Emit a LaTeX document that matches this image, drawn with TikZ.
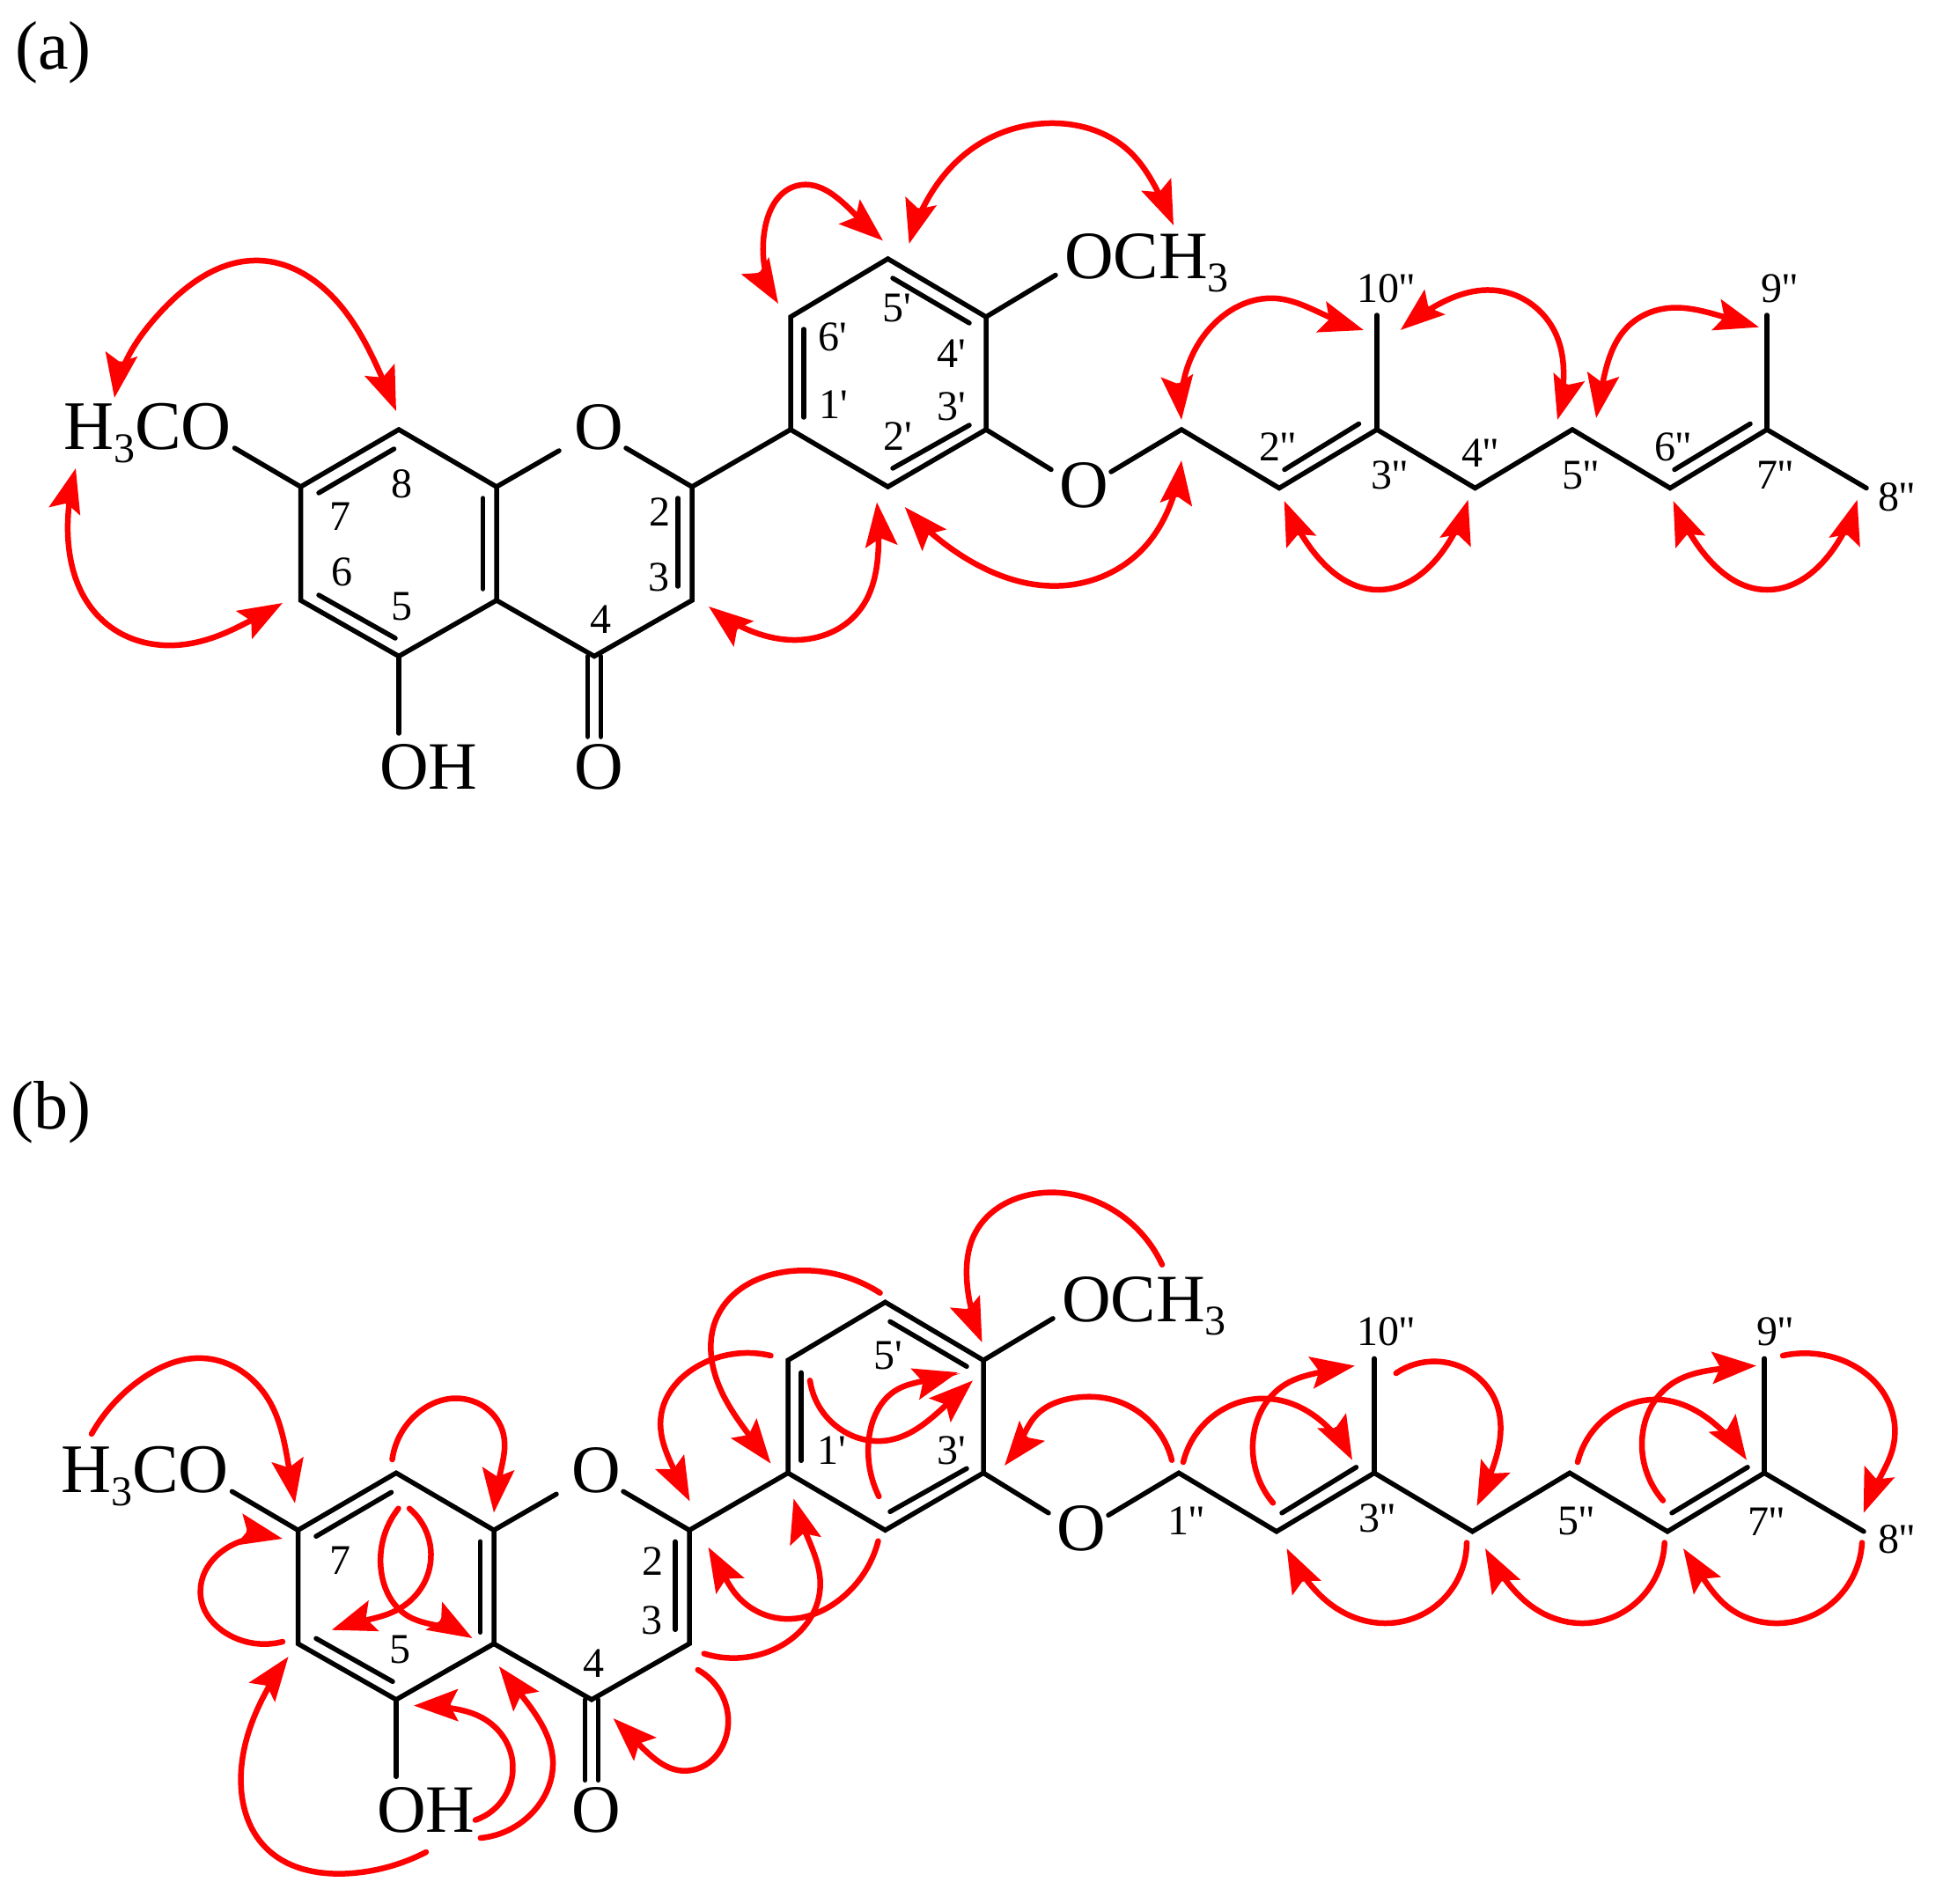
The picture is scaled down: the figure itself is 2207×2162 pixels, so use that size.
\documentclass[tikz,border=0pt]{standalone}
\usepackage{fontspec}
\usetikzlibrary{arrows.meta,hobby}
\newfontfamily\chemfont{Liberation Serif}
\newcommand{\subthree}{\raisebox{-15pt}{\fontsize{48}{48}\selectfont 3}}
% one HMBC/COSY curve: name, style, start, middle points, end
\newcommand{\hcurve}[5]{%
  \coordinate (#1-s) at (#3);
  \coordinate (#1-e) at (#5);
  \draw[#2,use Hobby shortcut] (#1-s) .. #4 .. (#1-e);
}
\newcommand{\numlab}[3]{\node[numlabel] (#1) at (#2) {#3};}
% skeleton common to both panels
\newcommand{\skeleton}[1]{%
  \coordinate (#1C7) at (341.5,553);
  \coordinate (#1C8) at (453,488);
  \coordinate (#1C8a) at (564,553);
  \coordinate (#1C4a) at (564,682);
  \coordinate (#1C5) at (453,745.5);
  \coordinate (#1C6) at (341.5,682);
  \coordinate (#1C2) at (786,553);
  \coordinate (#1C3) at (786,682);
  \coordinate (#1C4) at (675,745.5);
  \coordinate (#1C1p) at (898,488);
  \coordinate (#1C6p) at (898,360);
  \coordinate (#1C5p) at (1008.5,294);
  \coordinate (#1C4p) at (1120,360);
  \coordinate (#1C3p) at (1120,488);
  \coordinate (#1C2p) at (1008.5,553);
  \coordinate (#1C1pp) at (1342,488);
  \coordinate (#1C2pp) at (1453,554.5);
  \coordinate (#1C3pp) at (1564,488);
  \coordinate (#1C4pp) at (1675.5,554.5);
  \coordinate (#1C5pp) at (1786,488);
  \coordinate (#1C6pp) at (1897,554.5);
  \coordinate (#1C7pp) at (2007,488);
  \coordinate (#1C8pp) at (2120,554.5);
  \coordinate (#1C9pp) at (2007,358);
  \coordinate (#1C10pp) at (1564,358);
  \coordinate (#1ome1) at (266.5,509);
  \coordinate (#1o1a) at (635,512);
  \coordinate (#1o1b) at (711,509);
  \coordinate (#1o2a) at (1194,533.5);
  \coordinate (#1o2b) at (1262,536);
  \coordinate (#1ome2) at (1199,312.5);
  \coordinate (#1oh) at (453,833);
  \node[atomlabel,font=\chemfont\fontsize{79}{79}\selectfont] (#1tOMeA) at (72,510) {H\subthree CO};
  \node[atomlabel] (#1tO1) at (652,510) {O};
  \node[atomlabel] (#1tOH) at (431,896) {OH};
  \node[atomlabel] (#1tOk) at (652,896) {O};
  \node[atomlabel] (#1tO2) at (1203,576) {O};
  \node[atomlabel] (#1tOMeB) at (1209,316) {OCH\subthree};
  \draw[bond] (#1ome1) -- (#1C7) -- (#1C8) -- (#1C8a) -- (#1o1a);
  \draw[bond] (#1C7) -- (#1C6) -- (#1C5) -- (#1C4a) -- (#1C8a);
  \draw[bond] (#1C5) -- (#1oh);
  \draw[bond] (#1C4a) -- (#1C4) -- (#1C3) -- (#1C2) -- (#1o1b);
  \draw[bond] (#1C2) -- (#1C1p) -- (#1C6p) -- (#1C5p) -- (#1C4p) -- (#1C3p) -- (#1C2p) -- (#1C1p);
  \draw[bond] (#1C4p) -- (#1ome2);
  \draw[bond] (#1C3p) -- (#1o2a);
  \draw[bond] (#1o2b) -- (#1C1pp) -- (#1C2pp) -- (#1C3pp) -- (#1C4pp) -- (#1C5pp) -- (#1C6pp) -- (#1C7pp) -- (#1C8pp);
  \draw[bond] (#1C3pp) -- (#1C10pp);
  \draw[bond] (#1C7pp) -- (#1C9pp);
  % inner lines of the double bonds
  \draw[bond] (362,560) -- (447.5,510);
  \draw[bond] (362,676) -- (449,725);
  \draw[bond] (548.5,566) -- (548.5,669);
  \draw[bond] (770,566) -- (770,666);
  \draw[bond] (913,374) -- (913,474);
  \draw[bond] (1014,316) -- (1101,367);
  \draw[bond] (1014,532) -- (1101,483);
  \draw[bond] (1459,533.5) -- (1543.5,481.5);
  \draw[bond] (1902,533.5) -- (1988,481.5);
  \draw[bond] (667.5,745.5) -- (667.5,837);
  \draw[bond] (682.5,745.5) -- (682.5,837);
}
\tikzset{
  bond/.style={draw=black,line width=5.5pt,line cap=round,line join=miter},
  atomlabel/.style={font=\chemfont\fontsize{77}{77}\selectfont,anchor=base west,inner sep=0pt,text=black},
  numlabel/.style={font=\chemfont\fontsize{48}{48}\selectfont,anchor=center,inner sep=0pt,text=black},
  panellabel/.style={font=\chemfont\fontsize{78}{78}\selectfont,anchor=base west,inner sep=0pt,text=black},
  hmbc/.style={draw=red,line width=6.5pt,line cap=round,>={Stealth[length=50pt,width=36pt,inset=9pt]},->},
  cosy/.style={draw=red,line width=6.5pt,line cap=round,>={Stealth[length=50pt,width=36pt,inset=9pt]},<->},
}
\begin{document}
\begin{tikzpicture}[x=1pt,y=-1pt]
\useasboundingbox (0,0) rectangle (2207,2162);
\fill[white] (0,0) rectangle (2207,2162);
\node[panellabel] (pa) at (17,79) {(a)};
\node[panellabel] (pb) at (12,1282) {(b)};
\begin{scope}
\skeleton{a}
\end{scope}
\begin{scope}[shift={(-3,1185.3)}]
\skeleton{b}
\end{scope}
% panel (a) numbers
\numlab{la7}{386,587}{7}
\numlab{la8}{456,550}{8}
\numlab{la6}{388,650}{6}
\numlab{la5}{456,689}{5}
\numlab{la4}{682,704}{4}
\numlab{la2}{749,582}{2}
\numlab{la3}{748,655.5}{3}
\numlab{la6p}{946,383}{6'}
\numlab{la1p}{947,460}{1'}
\numlab{la5p}{1019,350}{5'}
\numlab{la4p}{1081,402}{4'}
\numlab{la3p}{1081,462}{3'}
\numlab{la2p}{1020,496}{2'}
\numlab{la2pp}{1451,507.5}{2''}
\numlab{la3pp}{1578,540}{3''}
\numlab{la4pp}{1681,515}{4''}
\numlab{la5pp}{1795,540}{5''}
\numlab{la6pp}{1900,507.5}{6''}
\numlab{la7pp}{2016,540}{7''}
\numlab{la8pp}{2154,565}{8''}
\numlab{la9pp}{2021,327.5}{9''}
\numlab{la10pp}{1574,327.5}{10''}
% panel (b) numbers
\numlab{lb7}{386,1772.5}{7}
\numlab{lb5}{454,1874}{5}
\numlab{lb2}{741,1774}{2}
\numlab{lb3}{740,1841}{3}
\numlab{lb4}{674,1890}{4}
\numlab{lb5p}{1009,1540}{5'}
\numlab{lb1p}{945,1647.5}{1'}
\numlab{lb3p}{1081,1647.5}{3'}
\numlab{lb1pp}{1347,1727.5}{1''}
\numlab{lb3pp}{1564,1725}{3''}
\numlab{lb5pp}{1790.5,1727.5}{5''}
\numlab{lb7pp}{2006,1729}{7''}
\numlab{lb8pp}{2154,1748.5}{8''}
\numlab{lb9pp}{2016,1512.5}{9''}
\numlab{lb10pp}{1574,1512.5}{10''}
% panel (a) correlations
\hcurve{a1}{cosy}{130,452}{(140,417) .. (182,355) .. (294.6,296) .. (393,355) .. (433.5,428)}{450,467}
\hcurve{a2}{cosy}{86,532}{(78.6,571.5) .. (119,707) .. (186,733) .. (240,725) .. (291,701.6)}{321,685}
\hcurve{a3}{cosy}{884,345}{(870,311) .. (868.4,262) .. (905,211) .. (973.7,246)}{1003,273.4}
\hcurve{a4}{cosy}{1032.6,277}{(1050,233) .. (1100,172) .. (1192,140) .. (1283.6,172.7) .. (1317.5,222.5)}{1333,256}
\hcurve{a5}{cosy}{805,689}{(838,710) .. (905,727) .. (975,695) .. (998,612)}{996,570.5}
\hcurve{a6}{cosy}{1027.7,576}{(1056,604) .. (1100,636) .. (1199,665.6) .. (1297.7,624) .. (1333,563)}{1342,523}
\hcurve{a7}{cosy}{1342,477}{(1343.6,437) .. (1372,375.5) .. (1449.5,339) .. (1509.5,360)}{1549,375}
\hcurve{a8}{cosy}{1590.7,375}{(1619,354.5) .. (1700,330) .. (1767,379) .. (1775.7,437)}{1769,477}
\hcurve{a9}{cosy}{1813,475}{(1820,437) .. (1848,372) .. (1895,350) .. (1958,360)}{1998,371.7}
\hcurve{a10}{cosy}{1458.7,569}{(1482,613) .. (1566,670) .. (1645,617)}{1667.6,567.7}
\hcurve{a11}{cosy}{1900.6,569}{(1924,613) .. (2007,670) .. (2087,617)}{2109.6,567.7}
% panel (b) correlations
\hcurve{b1}{hmbc}{104,1629}{(160,1567) .. (231.5,1543) .. (305,1590) .. (328,1666.4)}{335,1707.8}
\hcurve{b2}{hmbc}{445.5,1658}{(475,1605) .. (519,1588.5) .. (572,1630) .. (568,1674.5)}{561,1718.5}
\hcurve{b3}{hmbc}{452.5,1713.7}{(433,1785) .. (463,1835.6) .. (510.7,1850)}{536.6,1861}
\hcurve{b4}{hmbc}{465,1713.7}{(487,1785) .. (449,1830) .. (410,1842)}{376.7,1851.7}
\hcurve{b5}{hmbc}{321,1865}{(259.6,1857) .. (228,1814) .. (284,1748)}{321,1748}
\hcurve{b6}{hmbc}{484,2104}{(400,2128) .. (301.6,2098.7) .. (273.6,2020) .. (301.6,1923)}{327.6,1882}
\hcurve{b7}{hmbc}{540,2067.6}{(582,2000) .. (547,1951) .. (508.6,1940)}{470,1937.6}
\hcurve{b8}{hmbc}{545.8,2088}{(603,2061) .. (628,2000) .. (589,1921.5)}{566.8,1893}
\hcurve{b9}{hmbc}{792.7,1897}{(827,1960) .. (778.7,2011.7) .. (722.5,1978)}{696.6,1952}
\hcurve{b10}{hmbc}{799.7,1878.5}{(862.8,1879.6) .. (931.6,1803) .. (912,1733.5)}{901.5,1702.4}
\hcurve{b11}{hmbc}{997.5,1750.7}{(950,1820) .. (891,1839) .. (835,1810) .. (820.8,1787)}{804.6,1757.7}
\hcurve{b12}{hmbc}{875.5,1540}{(800,1548) .. (750.6,1610) .. (768,1674.5)}{783.6,1705.6}
\hcurve{b13}{hmbc}{999.6,1468.8}{(905,1443.5) .. (815,1495) .. (815,1570) .. (856,1637)}{875.5,1662.6}
\hcurve{b14}{hmbc}{920,1568.3}{(956.7,1625) .. (1010,1636) .. (1078,1593)}{1105,1568.3}
\hcurve{b15}{hmbc}{998.3,1700}{(986.7,1636.7) .. (1020,1578) .. (1048,1569)}{1088,1559}
\hcurve{b16}{hmbc}{1320,1436.7}{(1260,1372) .. (1185,1355) .. (1108,1400) .. (1098,1450) .. (1103.5,1488.4)}{1115.5,1525}
\hcurve{b17}{hmbc}{1331,1658.7}{(1269,1591.7) .. (1220,1588) .. (1175,1610) .. (1160,1635.7)}{1141,1665}
\hcurve{b18}{hmbc}{1344,1661}{(1395,1598) .. (1450,1590) .. (1516.5,1630)}{1536,1658.7}
\hcurve{b19}{hmbc}{1446,1707.3}{(1423,1640) .. (1460,1572.6) .. (1499,1559)}{1539,1551.5}
\hcurve{b20}{hmbc}{1585.7,1560}{(1630,1546.6) .. (1698,1590) .. (1703,1640) .. (1691.6,1678)}{1677.5,1711}
\hcurve{b21}{hmbc}{1792,1661}{(1840,1600) .. (1885,1590) .. (1961,1630)}{1984,1658.7}
\hcurve{b22}{hmbc}{1889,1704.6}{(1865,1640) .. (1898,1572.6) .. (1954,1555)}{1995,1551.5}
\hcurve{b23}{hmbc}{2025,1540}{(2075,1540) .. (2148,1600) .. (2150,1645) .. (2131,1687)}{2116.7,1718.8}
\hcurve{b24}{hmbc}{1666,1752.5}{(1630,1825) .. (1573,1844) .. (1515,1825) .. (1481,1790.7)}{1461.5,1759}
\hcurve{b25}{hmbc}{1890.7,1752.5}{(1853,1825) .. (1799,1844) .. (1740,1825) .. (1707,1790.7)}{1687,1759}
\hcurve{b26}{hmbc}{2115,1752.5}{(2076,1825) .. (2021,1844) .. (1962,1825) .. (1933,1790.7)}{1912,1759}
\end{tikzpicture}
\end{document}
